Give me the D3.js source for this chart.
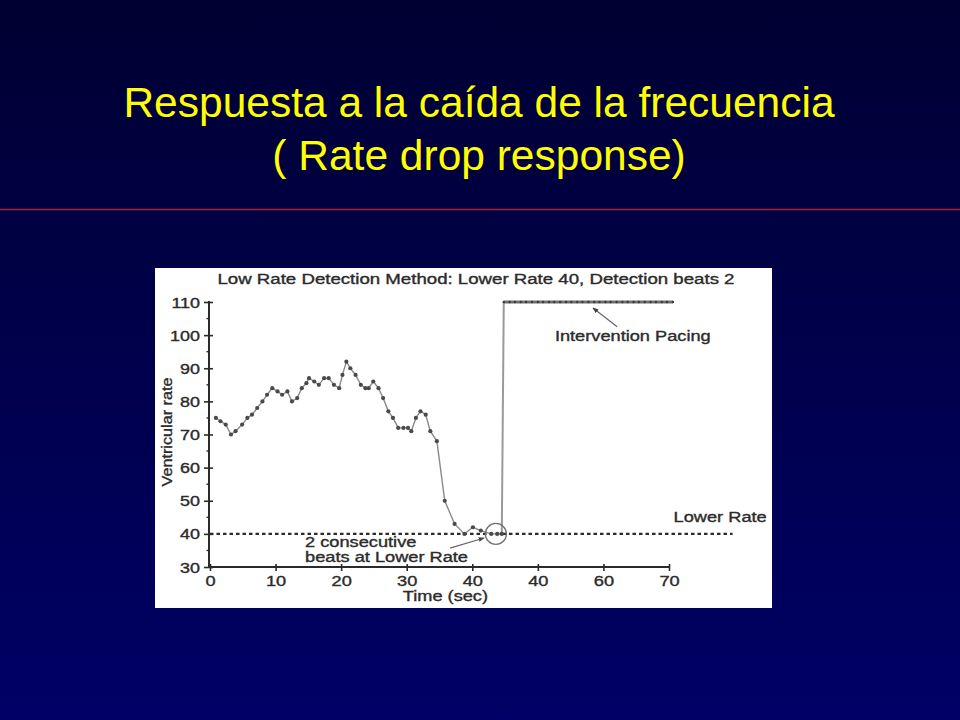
<!DOCTYPE html>
<html><head><meta charset="utf-8">
<script src="https://cdn.jsdelivr.net/npm/d3@7"></script>
<style>html,body{margin:0;padding:0;background:#000040;} svg{display:block}</style>
</head><body>
<svg id="c" width="960" height="720"></svg>
<script>
// ---------- data ----------
const slideTitle = ["Respuesta a la caída de la frecuencia", "( Rate drop response)"];
const chartTitle = "Low Rate Detection Method: Lower Rate 40, Detection beats 2";
const xLabel = "Time (sec)";
const yLabel = "Ventricular rate";
const xTickValues = [0, 10, 20, 30, 40, 50, 60, 70];
const xTickLabels = ["0", "10", "20", "30", "40", "40", "60", "70"];
const yTickValues = [30, 40, 50, 60, 70, 80, 90, 100, 110];
const yMinorTicks = [35, 45, 55, 65, 75, 85, 95, 105];
const rateTimes = [0.9, 1.6, 2.4, 3.2, 3.9, 4.9, 5.7, 6.4, 7.2, 8.0, 8.7, 9.5, 10.3, 11.0, 11.8, 12.5,
  13.3, 14.0, 14.7, 15.1, 15.9, 16.6, 17.4, 18.1, 18.9, 19.7, 20.2, 20.8, 21.4, 22.2, 23.0, 23.7,
  24.2, 24.9, 25.7, 26.4, 27.2, 27.9, 28.7, 29.5, 30.2, 30.7, 31.4, 32.1, 32.9, 33.6, 34.6,
  35.8, 37.3, 38.8, 40.1, 41.3, 42.9, 43.8, 44.5];
const rateValues = [75, 74, 73, 70, 71, 73, 75, 76, 78, 80, 82, 84, 83, 82, 83, 80,
  81, 84, 85.5, 87, 86, 85, 87, 87, 85, 84, 88, 92, 90, 88, 85, 84,
  84, 86, 84, 81, 77, 75, 72, 72, 72, 71, 75, 77, 76, 71, 68,
  50, 43, 40, 42, 41, 40, 40, 40];
const pacingTimes = [44.8, 45.7, 46.5, 47.4, 48.2, 49.1, 50.0, 50.8, 51.7, 52.5, 53.4, 54.3, 55.1,
  56.0, 56.8, 57.7, 58.6, 59.4, 60.3, 61.1, 62.0, 62.9, 63.7, 64.6, 65.4, 66.3, 67.2, 68.0, 68.9,
  69.7, 70.6];
const pacingValues = [110, 110, 110, 110, 110, 110, 110, 110, 110, 110, 110, 110, 110,
  110, 110, 110, 110, 110, 110, 110, 110, 110, 110, 110, 110, 110, 110, 110, 110, 110, 110];
const lowerRate = 40;
const lowerRateEnd = 79.7;
const annLowerRate = "Lower Rate";
const annPacing = "Intervention Pacing";
const annConsecutive = ["2 consecutive", "beats at Lower Rate"];

// ---------- drawing ----------
const svg = d3.select("#c");
const defs = svg.append("defs");
const grad = defs.append("linearGradient").attr("id", "bg").attr("x1", 0).attr("y1", 0).attr("x2", 0).attr("y2", 1);
grad.append("stop").attr("offset", "0%").attr("stop-color", "#000032");
grad.append("stop").attr("offset", "100%").attr("stop-color", "#000066");
svg.append("rect").attr("width", 960).attr("height", 720).attr("fill", "url(#bg)");

svg.selectAll("text.title").data(slideTitle).join("text")
  .attr("class", "title")
  .attr("x", 479).attr("y", (d, i) => 117 + i * 53)
  .attr("text-anchor", "middle")
  .attr("font-family", "Liberation Sans, Arial, sans-serif")
  .attr("font-size", 42.5)
  .attr("fill", "#ffff00")
  .text(d => d);

svg.append("line").attr("x1", 0).attr("x2", 960).attr("y1", 209.5).attr("y2", 209.5)
  .attr("stroke", "#a3203a").attr("stroke-width", 1.5);

// white panel
svg.append("rect").attr("x", 155).attr("y", 268).attr("width", 617).attr("height", 340).attr("fill", "#ffffff");

const x = d3.scaleLinear().domain([0, 70]).range([210, 669]);
const y = d3.scaleLinear().domain([30, 110]).range([567, 302]);
const ink = "#2b2b2b";
const font = "Liberation Sans, Arial, sans-serif";

function stretch(sel, k) {
  sel.each(function () {
    const l = this.getComputedTextLength();
    this.setAttribute("textLength", l * k);
    this.setAttribute("lengthAdjust", "spacingAndGlyphs");
  });
}
function heavy(sel) { sel.attr("stroke", ink).attr("stroke-width", 0.35); }

const g = svg.append("g");

// axes
const xAxis = d3.axisBottom(x).tickValues(xTickValues)
  .tickFormat((d, i) => xTickLabels[i]).tickSizeInner(4).tickSizeOuter(0).tickPadding(6);
const xg = g.append("g").attr("transform", `translate(0,${y(30)})`).call(xAxis);
xg.select(".domain").attr("stroke", ink).attr("stroke-width", 2).attr("d", `M${x(0) - 1},0H${x(70)}`);
xg.selectAll(".tick line").attr("stroke", ink).attr("stroke-width", 1.6).attr("y1", -3).attr("y2", 4);
xg.selectAll(".tick text").attr("fill", ink).attr("font-size", 14).attr("font-family", font).attr("dy", "0.62em");
stretch(xg.selectAll(".tick text"), 1.3);
heavy(xg.selectAll(".tick text"));

const yAxis = d3.axisLeft(y).tickValues(yTickValues).tickSizeInner(5).tickSizeOuter(0).tickPadding(4);
const yg = g.append("g").attr("transform", `translate(${x(0) - 1},0)`).call(yAxis);
yg.select(".domain").attr("stroke", ink).attr("stroke-width", 2).attr("d", `M0,${y(110) - 1}V${y(30)}`);
yg.selectAll(".tick line").attr("stroke", ink).attr("stroke-width", 1.6).attr("x1", 4).attr("x2", -5);
yg.selectAll(".tick text").attr("fill", ink).attr("font-size", 14).attr("font-family", font).attr("dy", "0.36em");
stretch(yg.selectAll(".tick text"), 1.28);
heavy(yg.selectAll(".tick text"));
yg.selectAll("line.minor").data(yMinorTicks).join("line").attr("class", "minor")
  .attr("x1", 0).attr("x2", -2.5).attr("y1", d => y(d)).attr("y2", d => y(d))
  .attr("stroke", ink).attr("stroke-width", 1.4);

// lower rate dashed line
g.append("line").attr("x1", x(0)).attr("x2", x(lowerRateEnd)).attr("y1", y(lowerRate)).attr("y2", y(lowerRate))
  .attr("stroke", ink).attr("stroke-width", 2.2).attr("stroke-dasharray", "3.5,3");

// series
const rate = rateTimes.map((t, i) => ({ t, v: rateValues[i] }));
const pacing = pacingTimes.map((t, i) => ({ t, v: pacingValues[i] }));
const line = d3.line().x(d => x(d.t)).y(d => y(d.v));
g.append("path").datum(rate).attr("d", line).attr("fill", "none").attr("stroke", "#8a8a8a").attr("stroke-width", 1.4);
g.append("path").datum([rate[rate.length - 1], pacing[0]]).attr("d", line).attr("fill", "none")
  .attr("stroke", "#9a9a9a").attr("stroke-width", 2);
g.append("path").datum(pacing).attr("d", line).attr("fill", "none").attr("stroke", "#707070").attr("stroke-width", 2.8);
g.selectAll("circle.pt").data(rate).join("circle").attr("class", "pt")
  .attr("cx", d => x(d.t)).attr("cy", d => y(d.v)).attr("r", 2.1).attr("fill", "#4a4a4a");
g.selectAll("circle.pp").data(pacing).join("circle").attr("class", "pp")
  .attr("cx", d => x(d.t)).attr("cy", d => y(d.v)).attr("r", 1.2).attr("fill", "#3a3a3a");

// highlight circle
g.append("circle").attr("cx", x(43.6)).attr("cy", y(40)).attr("r", 10.5)
  .attr("fill", "none").attr("stroke", "#707070").attr("stroke-width", 1.3);

// arrows
defs.append("marker").attr("id", "ah").attr("viewBox", "0 0 10 10").attr("refX", 9).attr("refY", 5)
  .attr("markerWidth", 5).attr("markerHeight", 5).attr("orient", "auto")
  .append("path").attr("d", "M0,1L10,5L0,9Z").attr("fill", "#444");
g.append("line").attr("x1", x(36.6)).attr("y1", y(35.7)).attr("x2", x(41.8)).attr("y2", y(38.75))
  .attr("stroke", "#666").attr("stroke-width", 1.2).attr("marker-end", "url(#ah)");
g.append("line").attr("x1", x(62.1)).attr("y1", y(102.5)).attr("x2", x(58.4)).attr("y2", y(108.2))
  .attr("stroke", "#666").attr("stroke-width", 1.2).attr("marker-end", "url(#ah)");

// annotation text
function label(txt, px, py, anchor, len) {
  const t = g.append("text").attr("x", px).attr("y", py).attr("text-anchor", anchor)
    .attr("font-family", font).attr("font-size", 14).attr("fill", ink).attr("dy", "0.35em").text(txt);
  if (len) { t.attr("textLength", len).attr("lengthAdjust", "spacingAndGlyphs"); } else { stretch(t, 1.3); }
  heavy(t);
  return t;
}
label(chartTitle, 476, 279, "middle", 517);
label(annLowerRate, x(77.8), y(45.1), "middle");
label(annPacing, x(52.6), y(99.7), "start");
label(annConsecutive[0], x(14.5), y(37.5), "start");
label(annConsecutive[1], x(14.5), y(33.0), "start");
label(xLabel, x(35.9), 596, "middle");
const yl = g.append("text").attr("transform", `translate(167,432) rotate(-90)`).attr("text-anchor", "middle")
  .attr("dy", "0.35em").attr("font-family", font).attr("font-size", 14).attr("fill", ink)
  .attr("textLength", 109).attr("lengthAdjust", "spacingAndGlyphs").text(yLabel);
heavy(yl);
</script>
</body></html>
